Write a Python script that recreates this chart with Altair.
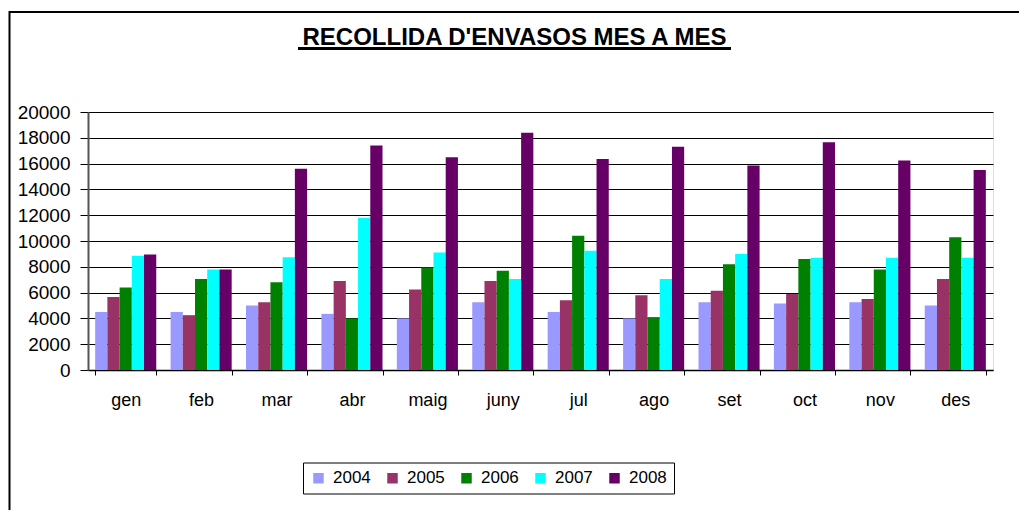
import altair as alt
import pandas as pd

months = ["gen", "feb", "mar", "abr", "maig", "juny", "jul", "ago", "set", "oct", "nov", "des"]
years = ["2004", "2005", "2006", "2007", "2008"]
v2004 = [4500, 4500, 5000, 4350, 4000, 5250, 4500, 4000, 5250, 5150, 5250, 5000]
v2005 = [5650, 4250, 5250, 6900, 6250, 6900, 5400, 5800, 6150, 5900, 5500, 7050]
v2006 = [6400, 7050, 6800, 4000, 7950, 7700, 10400, 4100, 8200, 8600, 7800, 10300]
v2007 = [8850, 7800, 8750, 11800, 9100, 7050, 9250, 7050, 9000, 8700, 8700, 8700]
v2008 = [8950, 7800, 15600, 17400, 16500, 18400, 16350, 17300, 15850, 17650, 16250, 15500]
colors = ["#9999FF", "#993366", "#008000", "#00FFFF", "#660066"]
title_text = "RECOLLIDA D'ENVASOS MES A MES"
y_ticks = list(range(0, 20001, 2000))

series = [v2004, v2005, v2006, v2007, v2008]
rows = []
for yr, vals in zip(years, series):
    for m, v in zip(months, vals):
        rows.append({"mes": m, "any": yr, "valor": v})
df = pd.DataFrame(rows)

FONT = "Liberation Sans"
one = pd.DataFrame({"t": [title_text]})

# outer frame: only its top and left edges are visible in the picture
frame_top = alt.Chart(one).mark_rule(strokeWidth=2, color="black").encode(
    x=alt.value(-78.5), x2=alt.value(960), y=alt.value(-100)
)
frame_left = alt.Chart(one).mark_rule(strokeWidth=2, color="black").encode(
    x=alt.value(-78.5), y=alt.value(-101), y2=alt.value(420)
)

bars = alt.Chart(df).mark_bar().encode(
    x=alt.X(
        "mes:N",
        sort=months,
        scale=alt.Scale(paddingInner=0.19, paddingOuter=0.095),
        axis=alt.Axis(
            title=None, labelAngle=0, labelFont=FONT, labelFontSize=18, labelColor="black",
            labelPadding=16, tickBand="extent", tickSize=5, tickColor="black",
            domainColor="black", domainWidth=1.5, grid=False,
        ),
    ),
    xOffset=alt.XOffset("any:N", sort=years),
    y=alt.Y(
        "valor:Q",
        scale=alt.Scale(domain=[0, 20000], nice=False),
        axis=alt.Axis(
            values=y_ticks, format="d", title=None, labelFont=FONT, labelFontSize=19,
            labelColor="black", labelPadding=10, tickSize=8, tickColor="black",
            domainColor="#555555", domainWidth=2, grid=True, gridColor="black", gridWidth=1,
        ),
    ),
    color=alt.Color(
        "any:N",
        sort=years,
        scale=alt.Scale(domain=years, range=colors),
        legend=alt.Legend(
            title=None, orient="none", legendX=215, legendY=350.5, direction="horizontal",
            columns=5, strokeColor="black", fillColor="white", padding=7,
            symbolType="square", symbolSize=110, symbolStrokeWidth=0, symbolOpacity=1,
            labelFont=FONT, labelFontSize=17, labelColor="black", labelOffset=6,
            columnPadding=13,
        ),
    ),
)

title_mark = alt.Chart(one).mark_text(
    font=FONT, fontSize=24, fontWeight="bold", align="center", baseline="alphabetic", color="black"
).encode(text="t:N", x=alt.value(426.5), y=alt.value(-67.5))

underline = alt.Chart(one).mark_rule(strokeWidth=3, color="black").encode(
    x=alt.value(210), x2=alt.value(643), y=alt.value(-63.5)
)

chart = alt.layer(frame_top, frame_left, bars, title_mark, underline).properties(
    width=905,
    height=258,
    padding={"left": 80, "top": 104, "right": 26, "bottom": 140},
    autosize=alt.AutoSizeParams(type="none"),
).configure_view(
    fill="#FFFFCC", stroke="#808080", strokeWidth=2
).configure(background="white")

chart.save("out.html", embed_options={"renderer": "svg", "actions": False})
